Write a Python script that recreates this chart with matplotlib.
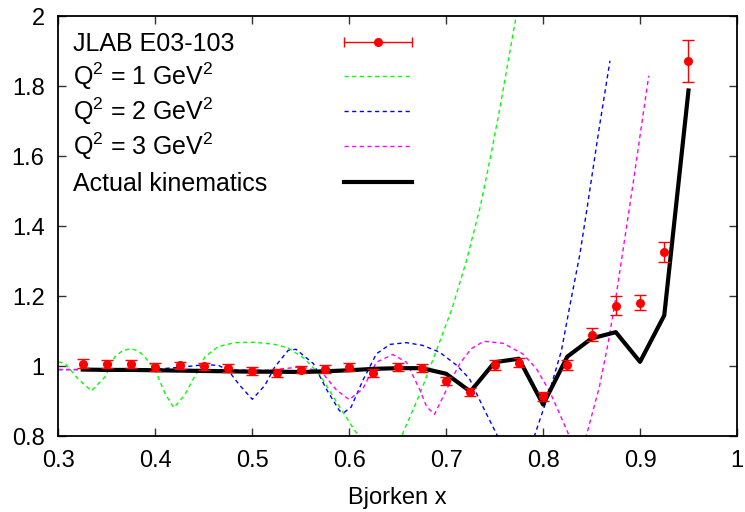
import matplotlib
matplotlib.use("Agg")
import matplotlib.pyplot as plt

plt.rcParams['font.family'] = ['Liberation Sans', 'DejaVu Sans']
plt.rcParams['mathtext.default'] = 'regular'

# JLAB E03-103 points
data_x = [0.325, 0.35, 0.375, 0.4, 0.425, 0.45, 0.475, 0.5, 0.525, 0.55, 0.575, 0.6, 0.625,
          0.65, 0.675, 0.7, 0.725, 0.75, 0.775, 0.8, 0.825, 0.85, 0.875, 0.9, 0.925, 0.95]
data_y = [1.007, 1.006, 1.006, 0.998, 1.002, 0.999, 0.995, 0.986, 0.981, 0.990, 0.991, 0.997, 0.980,
          0.997, 0.994, 0.958, 0.926, 1.003, 1.010, 0.913, 1.003, 1.090, 1.173, 1.181, 1.327, 1.872]
data_err = [0.012, 0.012, 0.012, 0.011, 0.011, 0.011, 0.011, 0.011, 0.011, 0.011, 0.011, 0.011, 0.011,
            0.011, 0.011, 0.012, 0.012, 0.013, 0.013, 0.014, 0.015, 0.018, 0.026, 0.022, 0.029, 0.061]

# actual kinematics
kin_x = data_x
kin_y = [0.990, 0.989, 0.989, 0.988, 0.987, 0.986, 0.985, 0.984, 0.984, 0.983, 0.985, 0.988, 0.992,
         0.994, 0.994, 0.978, 0.927, 1.011, 1.021, 0.890, 1.027, 1.079, 1.097, 1.012, 1.145, 1.788]

# Q^2 = 1 GeV^2
q1_x = [0.300, 0.307, 0.320, 0.334, 0.348, 0.358, 0.366, 0.375, 0.383, 0.389, 0.400, 0.410, 0.419,
        0.430, 0.441, 0.451, 0.465, 0.482, 0.503, 0.523, 0.537, 0.554, 0.570, 0.590, 0.609, 0.630,
        0.654, 0.673, 0.690, 0.706, 0.721, 0.735, 0.745, 0.755, 0.764, 0.772, 0.780]
q1_y = [1.012, 1.007, 0.964, 0.929, 0.969, 1.026, 1.044, 1.050, 1.042, 1.026, 0.988, 0.921, 0.881,
        0.916, 0.973, 1.026, 1.056, 1.067, 1.068, 1.062, 1.052, 1.021, 0.973, 0.883, 0.802, 0.740,
        0.800, 0.921, 1.045, 1.164, 1.302, 1.454, 1.588, 1.731, 1.873, 1.997, 2.120]

# Q^2 = 2 GeV^2
q2_x = [0.300, 0.350, 0.400, 0.427, 0.451, 0.465, 0.475, 0.487, 0.500, 0.513, 0.523, 0.537, 0.545,
        0.563, 0.577, 0.590, 0.595, 0.602, 0.614, 0.628, 0.642, 0.659, 0.676, 0.693, 0.711, 0.724,
        0.738, 0.753, 0.772, 0.791, 0.807, 0.819, 0.827, 0.838, 0.845, 0.858, 0.869]
q2_y = [0.990, 0.990, 0.991, 0.997, 1.004, 1.002, 0.988, 0.945, 0.905, 0.945, 0.997, 1.045, 1.048,
        1.007, 0.931, 0.872, 0.868, 0.883, 0.959, 1.035, 1.062, 1.067, 1.059, 1.040, 1.002, 0.964,
        0.883, 0.800, 0.720, 0.800, 0.931, 1.045, 1.164, 1.321, 1.445, 1.683, 1.873]

# Q^2 = 3 GeV^2
q3_x = [0.300, 0.350, 0.400, 0.450, 0.500, 0.516, 0.534, 0.548, 0.559, 0.573, 0.587, 0.600, 0.614,
        0.628, 0.645, 0.659, 0.673, 0.680, 0.688, 0.700, 0.714, 0.726, 0.739, 0.759, 0.779, 0.793,
        0.807, 0.817, 0.827, 0.836, 0.8445, 0.858, 0.867, 0.875, 0.893, 0.909]
q3_y = [0.990, 0.990, 0.990, 0.990, 0.989, 0.988, 0.993, 0.997, 0.993, 0.978, 0.931, 0.904, 0.935,
        1.011, 1.033, 1.011, 0.931, 0.883, 0.862, 0.931, 1.007, 1.050, 1.071, 1.065, 1.035, 0.993,
        0.926, 0.864, 0.800, 0.770, 0.800, 0.940, 1.064, 1.195, 1.525, 1.830]

x_ticks = [0.3, 0.4, 0.5, 0.6, 0.7, 0.8, 0.9, 1.0]
x_ticklabels = ['0.3', '0.4', '0.5', '0.6', '0.7', '0.8', '0.9', '1']
y_ticks = [0.8, 1.0, 1.2, 1.4, 1.6, 1.8, 2.0]
y_ticklabels = ['0.8', '1', '1.2', '1.4', '1.6', '1.8', '2']

labels = ['JLAB E03-103', r'Q$^2$ = 1 GeV$^2$', r'Q$^2$ = 2 GeV$^2$', r'Q$^2$ = 3 GeV$^2$',
          'Actual kinematics']

fig = plt.figure(figsize=(7.45, 5.12), dpi=100)
ax = fig.add_axes([0.0785, 0.1484, 0.9107, 0.8197])

dash = (3, 2.5)
ax.plot(q1_x, q1_y, color='#00ff00', lw=1, dashes=dash)
ax.plot(q2_x, q2_y, color='#0000ff', lw=1, dashes=dash)
ax.plot(q3_x, q3_y, color='#ff00ff', lw=1, dashes=dash)
ax.plot(kin_x, kin_y, color='black', lw=3)
ax.errorbar(data_x, data_y, yerr=data_err, fmt='o', color='red', ms=5.5,
            elinewidth=1, capsize=4.5, capthick=1)

# gnuplot style key: text on the left, sample on the right
row_y = [0.9388, 0.857, 0.7737, 0.6903, 0.6052]
txt_x = 0.0214
s0, s1 = 0.4207, 0.5205
for i, lab in enumerate(labels):
    ax.text(txt_x, row_y[i] - 0.0205, lab, transform=ax.transAxes, fontsize=18,
            ha='left', va='baseline')
ax.plot([s0, s1], [row_y[0]] * 2, color='red', lw=1, transform=ax.transAxes)
ax.plot([s0, s1], [row_y[0]] * 2, ls='none', marker='|', ms=7, mew=1, color='red',
        transform=ax.transAxes)
ax.plot([(s0 + s1) / 2], [row_y[0]], marker='o', ms=5.5, color='red', transform=ax.transAxes)
for i, c in zip([1, 2, 3], ['#00ff00', '#0000ff', '#ff00ff']):
    ax.plot([s0, s1], [row_y[i]] * 2, color=c, lw=1, dashes=dash, transform=ax.transAxes)
ax.plot([s0, s1], [row_y[4]] * 2, color='black', lw=3, transform=ax.transAxes)

ax.set_xlim(0.3, 1.0)
ax.set_ylim(0.8, 2.0)
ax.set_xticks(x_ticks)
ax.set_xticklabels(x_ticklabels)
ax.set_yticks(y_ticks)
ax.set_yticklabels(y_ticklabels)
ax.tick_params(direction='in', top=True, right=True, length=6, width=1, color='#333333',
               labelsize=17, pad=10)
for sp in ax.spines.values():
    sp.set_linewidth(1.3)
ax.set_xlabel('Bjorken x', fontsize=17, labelpad=11)

plt.savefig('out.png', dpi=100)
